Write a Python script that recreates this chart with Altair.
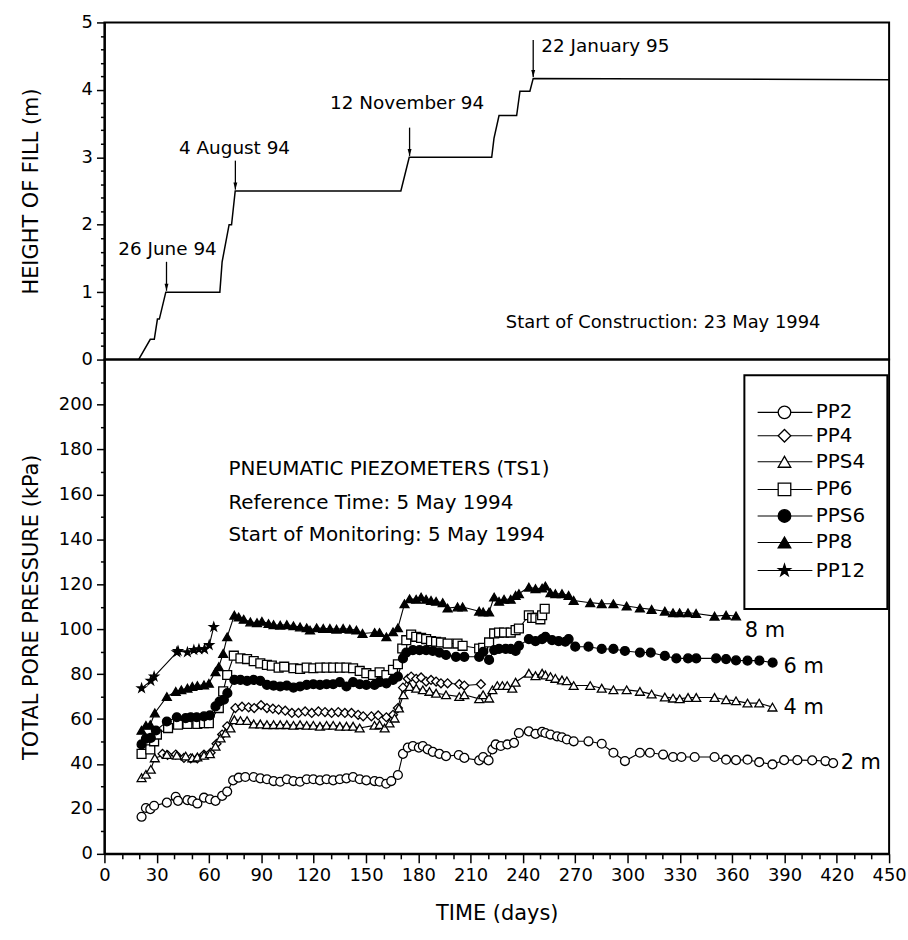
import altair as alt
import pandas as pd

# ---------------- data ----------------
# Height of fill (top panel)
fill_day = [19.6, 26.3, 28.6, 30.4, 31.5, 35.2, 66.2, 67.5, 71.5, 72.9, 75.0, 170.0, 174.8,
            222.1, 223.4, 226.3, 236.4, 238.3, 244.0, 245.9, 450.0]
fill_h = [0.0, 0.3, 0.3, 0.6, 0.6, 1.0, 1.0, 1.45, 2.0, 2.0, 2.5, 2.5, 3.0,
          3.0, 3.28, 3.62, 3.62, 3.98, 3.98, 4.17, 4.15]

ann_text = ["26 June 94", "4 August 94", "12 November 94", "22 January 95"]
ann_text_day = [36.2, 74.6, 173.6, 287.3]
ann_text_h = [1.64, 3.13, 3.81, 4.65]
arrow_day = [35.6, 75.1, 175.0, 245.9]
arrow_top = [1.45, 2.95, 3.44, 4.74]
arrow_tip = [1.02, 2.52, 3.02, 4.19]

construction_text = ["Start of Construction: 23 May 1994"]
construction_day = [320.4]
construction_h = [0.54]

# Pore pressures (bottom panel)
pp2_day = [21.3, 23.8, 26.3, 28.5, 35.8, 40.9, 42.2, 47.6, 50.4, 53.3, 57.1, 60.5, 63.7, 67.5, 70.4,
           73.8, 77.0, 80.8, 85.6, 89.4, 93.2, 97.0, 100.8, 104.6, 108.4, 112.2, 116.0, 119.8, 123.6,
           127.4, 131.2, 135.0, 138.8, 142.6, 146.4, 150.2, 154.9, 157.8, 161.6, 164.5, 168.3, 171.2,
           174.0, 176.9, 180.3, 182.6, 185.4, 188.3, 192.1, 195.9, 203.2, 206.4, 214.9, 217.2, 220.3,
           222.5, 224.4, 227.3, 231.1, 234.9, 237.7, 243.4, 247.2, 251.0, 252.9, 255.8, 259.6, 262.4,
           265.2, 269.1, 277.6, 285.2, 291.9, 298.5, 307.1, 312.8, 320.4, 326.1, 330.9, 338.5, 349.9,
           356.5, 362.2, 368.8, 375.5, 383.1, 389.8, 397.4, 405.9, 413.5, 417.9]
pp2_val = [16.5, 20.4, 19.9, 21.4, 22.8, 25.4, 23.6, 23.9, 23.6, 22.4, 25.0, 24.3, 23.6, 25.8, 27.7,
           32.7, 33.9, 34.2, 34.2, 33.6, 33.2, 32.4, 32.1, 33.2, 32.4, 32.1, 33.2, 33.2, 32.7,
           33.2, 32.7, 33.2, 33.6, 34.2, 33.2, 32.7, 32.4, 32.1, 31.2, 32.4, 35.1, 44.5,
           47.3, 48.0, 47.3, 48.0, 46.5, 45.4, 44.5, 43.5, 44.0, 42.7, 41.6, 43.1, 41.6,
           46.5, 48.7, 48.0, 48.7, 49.4, 53.8, 54.5, 53.4, 54.3, 53.8, 53.1, 52.3, 51.9,
           50.9, 50.1, 50.1, 49.0, 45.0, 41.3, 45.0, 45.0, 44.2, 43.1, 43.1, 43.1, 43.1,
           41.9, 41.7, 41.9, 40.8, 39.8, 41.7, 41.7, 41.6, 41.3, 40.4]

pp4_day = [33.3, 36.2, 40.9, 45.6, 49.5, 53.3, 57.1, 60.9, 64.3, 67.5, 70.4, 75.1, 78.9, 82.7, 85.9,
           89.8, 93.2, 96.6, 99.9, 103.7, 107.5, 111.3, 115.1, 118.9, 122.7, 126.5, 130.3, 134.1,
           137.9, 141.7, 145.5, 148.4, 153.1, 157.0, 161.7, 165.5, 168.3, 171.2, 174.0, 175.9, 178.8,
           181.6, 184.5, 187.3, 190.2, 193.0, 196.8, 203.5, 206.4, 215.9]
pp4_val = [44.5, 44.0, 44.2, 42.7, 42.5, 42.5, 44.2, 45.0, 49.0, 53.1, 56.8, 64.9, 65.5, 65.2, 64.9,
           66.2, 64.9, 64.6, 64.2, 63.7, 62.7, 62.7, 63.4, 62.7, 63.4, 63.1, 62.7, 63.1,
           62.7, 62.7, 61.9, 61.2, 61.2, 61.6, 60.8, 61.9, 64.9, 74.0, 77.9, 78.9, 77.9,
           78.5, 76.7, 77.4, 76.7, 75.9, 75.9, 75.5, 74.9, 75.5]

pps4_day = [21.3, 23.8, 26.6, 28.9, 35.8, 41.5, 46.6, 50.4, 53.3, 57.1, 60.5, 63.7, 66.6, 69.4, 72.3,
            74.5, 78.0, 81.8, 85.6, 89.4, 93.2, 97.0, 100.8, 104.6, 108.4, 112.2, 116.0, 119.8, 123.6,
            127.4, 131.2, 135.0, 138.8, 142.6, 146.4, 154.9, 157.8, 160.7, 163.5, 166.4, 168.9, 171.5,
            175.0, 178.8, 182.6, 186.4, 190.2, 195.9, 203.5, 206.4, 214.9, 217.2, 220.6, 222.5, 225.3,
            228.2, 231.0, 233.9, 235.8, 243.4, 247.2, 251.0, 252.9, 255.8, 258.6, 262.4, 265.2, 269.1,
            278.6, 285.2, 291.9, 299.5, 307.1, 313.8, 321.4, 326.1, 329.9, 334.7, 339.4, 349.9, 356.5,
            362.2, 368.8, 375.5, 383.1]
pps4_val = [33.9, 35.4, 37.6, 42.7, 44.2, 43.9, 43.5, 42.7, 43.1, 43.9, 44.5, 47.9, 51.6, 53.8, 56.0,
            59.7, 59.3, 59.3, 57.8, 57.8, 57.5, 57.5, 57.5, 57.5, 57.2, 57.5, 57.2, 57.2, 56.8,
            57.2, 57.2, 56.8, 56.8, 56.8, 56.0, 57.2, 57.5, 56.0, 58.2, 60.4, 64.9, 70.8,
            74.5, 73.7, 73.0, 72.3, 71.5, 70.8, 70.0, 70.8, 69.0, 70.8, 69.3, 73.0, 74.9,
            74.9, 74.9, 73.7, 76.4, 80.4, 79.3, 80.4, 79.6, 78.9, 78.1, 77.4, 77.0, 74.9,
            74.9, 73.7, 73.0, 73.0, 72.3, 71.1, 69.8, 69.3, 69.0, 69.6, 69.6, 69.6, 68.6,
            68.1, 67.1, 67.1, 65.3]

pp6_day = [21.3, 26.3, 28.5, 30.1, 36.5, 42.2, 47.6, 53.3, 57.1, 59.9, 65.6, 68.1, 70.4, 74.2, 78.0,
           81.8, 85.6, 89.4, 93.2, 96.0, 99.9, 103.1, 108.4, 112.2, 116.0, 119.8, 123.6, 127.4, 131.2,
           135.0, 138.8, 142.6, 146.4, 150.2, 154.0, 157.8, 161.7, 165.5, 168.3, 170.8, 173.1, 175.9,
           178.8, 181.6, 184.5, 187.3, 190.2, 193.0, 196.8, 202.5, 205.4, 214.9, 217.2, 220.6, 223.5,
           226.3, 229.2, 233.0, 235.8, 237.7, 243.4, 245.3, 247.2, 250.0, 251.0, 252.5]
pp6_val = [44.5, 46.5, 50.1, 53.1, 56.0, 57.5, 57.8, 57.8, 58.2, 58.2, 64.9, 72.3, 79.6, 88.2, 87.0,
           86.7, 85.8, 84.8, 84.1, 83.8, 82.9, 83.3, 82.6, 82.3, 82.9, 82.6, 82.9, 82.9, 82.9,
           82.9, 82.9, 82.6, 81.4, 80.4, 79.6, 80.8, 79.6, 81.9, 84.4, 91.4, 95.1, 97.6,
           96.6, 96.1, 95.6, 94.7, 94.4, 94.1, 93.6, 93.6, 92.6, 91.4, 91.7, 94.1, 98.1,
           98.5, 98.5, 98.5, 99.6, 100.3, 106.2, 105.0, 105.0, 104.4, 106.2, 109.1]

pps6_day = [21.3, 23.8, 26.6, 29.5, 35.8, 41.5, 46.6, 49.5, 52.9, 57.1, 60.5, 63.7, 66.0, 68.5, 70.5,
            74.5, 78.0, 81.8, 85.6, 89.4, 93.2, 97.0, 100.8, 104.6, 108.4, 112.2, 116.0, 119.8, 123.6,
            127.4, 131.2, 135.0, 138.8, 142.6, 146.4, 150.2, 154.9, 157.8, 161.7, 165.5, 168.3, 171.2,
            173.1, 176.9, 180.7, 184.5, 188.3, 192.1, 195.9, 201.6, 206.4, 214.9, 217.2, 220.6, 223.5,
            226.3, 230.1, 233.0, 235.8, 237.7, 243.4, 247.2, 251.0, 252.9, 256.7, 260.5, 264.3, 266.2,
            270.0, 277.6, 285.2, 291.9, 298.5, 307.1, 313.3, 321.4, 328.0, 334.7, 339.4, 350.8, 356.5,
            362.2, 368.8, 375.6, 383.2]
pps6_val = [48.7, 51.3, 51.6, 54.9, 58.9, 60.8, 60.4, 60.8, 60.8, 61.2, 61.6, 65.6, 67.8, 68.6, 71.5,
            77.4, 77.4, 77.0, 77.4, 77.0, 75.2, 74.9, 74.5, 74.9, 74.0, 74.5, 75.2, 75.5, 75.2,
            75.5, 75.5, 76.4, 74.5, 76.4, 75.5, 75.2, 75.2, 76.4, 75.9, 77.4, 78.9, 87.0,
            89.6, 90.7, 90.7, 90.7, 90.3, 89.6, 88.5, 87.7, 87.7, 87.7, 89.9, 86.3, 90.7,
            91.2, 91.2, 91.2, 90.3, 92.6, 95.6, 94.7, 95.6, 96.6, 95.1, 94.7, 94.4, 95.6,
            92.2, 92.2, 91.2, 91.2, 90.3, 89.6, 89.6, 88.1, 87.0, 87.0, 87.0, 87.0, 86.7,
            86.1, 86.0, 86.0, 85.1]

pp8_day = [21.3, 23.8, 26.3, 28.9, 35.8, 40.9, 44.1, 47.6, 50.4, 53.3, 57.1, 59.9, 63.7, 65.6, 68.1,
           70.4, 74.5, 77.0, 79.9, 83.7, 87.5, 90.3, 94.1, 97.0, 100.8, 104.6, 108.4, 112.2, 116.0,
           117.9, 121.7, 125.5, 129.3, 133.1, 136.9, 140.7, 144.5, 148.0, 155.0, 157.8, 161.7, 165.5,
           168.3, 172.1, 175.0, 178.8, 181.6, 184.5, 187.3, 190.2, 194.0, 196.8, 202.5, 205.4, 214.9,
           217.2, 220.6, 223.5, 226.3, 229.2, 233.0, 235.8, 237.7, 243.4, 247.2, 251.0, 252.9, 255.8,
           258.6, 262.4, 266.2, 269.1, 278.6, 285.2, 291.9, 299.5, 307.1, 313.8, 321.4, 326.1, 329.9,
           334.7, 339.3, 349.9, 356.5, 362.2]
pp8_val = [55.0, 57.2, 57.5, 62.7, 70.0, 72.3, 73.0, 73.7, 74.5, 74.9, 75.2, 75.9, 81.1, 83.3, 89.2,
           96.6, 106.2, 105.4, 104.4, 103.2, 102.9, 103.5, 102.5, 102.0, 101.8, 102.0, 101.5, 101.0, 100.6,
           99.6, 100.6, 100.3, 100.3, 100.0, 100.3, 100.0, 99.6, 98.1, 98.5, 98.5, 96.6, 98.8,
           100.6, 111.3, 113.5, 113.3, 114.3, 113.3, 112.8, 112.4, 111.8, 109.4, 109.9, 109.9, 108.0,
           107.7, 107.7, 114.3, 112.4, 113.3, 113.3, 115.0, 115.8, 118.7, 118.0, 118.3, 119.2, 116.2,
           115.8, 115.8, 115.0, 112.8, 111.8, 111.3, 111.3, 110.3, 109.4, 108.8, 108.0, 107.3, 107.3,
           107.3, 107.0, 105.8, 106.2, 105.9]

pp12_day = [21.3, 26.6, 28.5, 41.5, 42.2, 47.6, 51.3, 54.2, 57.4, 60.1, 62.7]
pp12_val = [73.7, 77.0, 78.9, 89.7, 90.3, 89.7, 90.7, 91.1, 91.1, 92.9, 101.0]

series_names = ["PP2", "PP4", "PPS4", "PP6", "PPS6", "PP8", "PP12"]
series_days = [pp2_day, pp4_day, pps4_day, pp6_day, pps6_day, pp8_day, pp12_day]
series_vals = [pp2_val, pp4_val, pps4_val, pp6_val, pps6_val, pp8_val, pp12_val]
STAR = ("M0,-1L0.2245,-0.309L0.951,-0.309L0.363,0.118L0.588,0.809L0,0.382"
        "L-0.588,0.809L-0.363,0.118L-0.951,-0.309L-0.2245,-0.309Z")
series_shapes = ["circle", "diamond", "triangle-up", "square", "circle", "triangle-up", STAR]
series_fills = ["white", "white", "white", "white", "black", "black", "black"]

depth_text = ["8 m", "6 m", "4 m", "2 m"]
depth_day = [367.2, 389.5, 389.5, 422.2]
depth_val = [99.2, 83.3, 64.9, 40.5]

info_text = ["PNEUMATIC PIEZOMETERS (TS1)", "Reference Time: 5 May 1994",
             "Start of Monitoring: 5 May 1994"]
info_day = [71.1, 71.1, 71.1]
info_val = [171.4, 156.3, 141.7]

legend_val = [196.5, 186.1, 174.5, 162.2, 150.4, 138.6, 126.1]
legend_line_day = [374.6, 406.0]
legend_sym_day = 390.0
legend_text_day = 408.0
legend_box_day = [367.0, 449.0]
legend_box_val = [109.0, 213.0]

# ---------------- layout constants ----------------
FONT = "DejaVu Sans"
W = 789
H_TOP = 339
H_BOT = 497

x_scale = alt.Scale(domain=[0, 450], nice=False, zero=False)
y_top_scale = alt.Scale(domain=[0, 5], nice=False, zero=False)
y_bot_scale = alt.Scale(domain=[0, 220], nice=False, zero=False)

shape_scale = alt.Scale(domain=series_names, range=series_shapes)
fill_scale = alt.Scale(domain=series_names, range=series_fills)

is_int = "abs(datum.value - round(datum.value)) < 0.001"
y_top_axis = alt.Axis(
    values=[round(0.2 * i, 1) for i in range(26)],
    labelExpr=f"{is_int} ? format(datum.value, 'd') : ''",
    tickSize={"condition": {"test": is_int, "value": 8}, "value": 4},
    title="HEIGHT OF FILL (m)", titleX=-73, titleY=H_TOP / 2, titleAngle=270,
    titleBaseline="middle", titleAlign="center",
    labelOverlap=False, labelFlush=False, labelBound=False, grid=False,
)
y_bot_axis = alt.Axis(
    values=list(range(0, 211, 10)),
    labelExpr="datum.value % 20 === 0 ? datum.label : ''",
    tickSize={"condition": {"test": "datum.value % 20 === 0", "value": 8}, "value": 4},
    title="TOTAL PORE PRESSURE (kPa)", titleX=-73, titleY=H_BOT / 2, titleAngle=270,
    titleBaseline="middle", titleAlign="center",
    labelOverlap=False, labelFlush=False, labelBound=False, grid=False,
)
x_bot_axis = alt.Axis(
    values=list(range(0, 451, 10)),
    labelExpr="datum.value % 30 === 0 ? datum.label : ''",
    tickSize={"condition": {"test": "datum.value % 30 === 0", "value": 9}, "value": 5},
    title="TIME (days)", titleY=60, titleBaseline="middle",
    labelOverlap=False, labelFlush=False, labelBound=False, grid=False,
)


def xt(field="day"):
    return alt.X(f"{field}:Q", scale=x_scale, axis=None)


def yt(field="h"):
    return alt.Y(f"{field}:Q", scale=y_top_scale, axis=y_top_axis)


def xb(field="day"):
    return alt.X(f"{field}:Q", scale=x_scale, axis=x_bot_axis)


def yb(field="val"):
    return alt.Y(f"{field}:Q", scale=y_bot_scale, axis=y_bot_axis)


# ---------------- top panel ----------------
fill_df = pd.DataFrame({"day": fill_day, "h": fill_h})
ann_df = pd.DataFrame({"day": ann_text_day, "h": ann_text_h, "label": ann_text})
arrow_df = pd.DataFrame({"day": arrow_day, "h": arrow_top, "h2": arrow_tip})
cons_df = pd.DataFrame({"day": construction_day, "h": construction_h, "label": construction_text})

fill_line = alt.Chart(fill_df).mark_line(color="black", strokeWidth=1.5).encode(x=xt(), y=yt())
arrow_shaft = alt.Chart(arrow_df).mark_rule(color="black", strokeWidth=1.3).encode(
    x=xt(), y=yt(), y2="h2:Q")
arrow_head = alt.Chart(arrow_df).mark_point(
    shape="M0,0L-0.28,-1L0.28,-1Z", filled=True, color="black", size=200, opacity=1
).encode(x=xt(), y=yt("h2"))
ann_label = alt.Chart(ann_df).mark_text(
    font=FONT, fontSize=18.5, color="black", align="center", baseline="middle"
).encode(x=xt(), y=yt(), text="label:N")
cons_label = alt.Chart(cons_df).mark_text(
    font=FONT, fontSize=18, color="black", align="center", baseline="middle"
).encode(x=xt(), y=yt(), text="label:N")

top = alt.layer(fill_line, arrow_shaft, arrow_head, ann_label, cons_label).properties(
    width=W, height=H_TOP)

# ---------------- bottom panel ----------------
rows = []
for name, ds, vs in zip(series_names, series_days, series_vals):
    for d, v in zip(ds, vs):
        rows.append({"series": name, "day": d, "val": v})
pp_df = pd.DataFrame(rows)

lines = alt.Chart(pp_df).mark_line(color="black", strokeWidth=1.1).encode(
    x=xb(), y=yb(), detail="series:N")
points = alt.Chart(pp_df).mark_point(
    filled=True, stroke="black", strokeWidth=1.3, size=80, opacity=1
).encode(
    x=xb(), y=yb(),
    shape=alt.Shape("series:N", scale=shape_scale, legend=None),
    fill=alt.Fill("series:N", scale=fill_scale, legend=None),
)

depth_df = pd.DataFrame({"day": depth_day, "val": depth_val, "label": depth_text})
depth_labels = alt.Chart(depth_df).mark_text(
    font=FONT, fontSize=21, color="black", align="left", baseline="middle"
).encode(x=xb(), y=yb(), text="label:N")

info_df = pd.DataFrame({"day": info_day, "val": info_val, "label": info_text})
info_labels = alt.Chart(info_df).mark_text(
    font=FONT, fontSize=20, color="black", align="left", baseline="middle"
).encode(x=xb(), y=yb(), text="label:N")

box_df = pd.DataFrame({"day": [legend_box_day[0]], "day2": [legend_box_day[1]],
                       "val": [legend_box_val[0]], "val2": [legend_box_val[1]]})
legend_box = alt.Chart(box_df).mark_rect(fill="white", stroke="black", strokeWidth=2).encode(
    x=xb(), x2="day2:Q", y=yb(), y2="val2:Q")

leg_df = pd.DataFrame({
    "series": series_names,
    "val": legend_val,
    "day": [legend_line_day[0]] * len(series_names),
    "day2": [legend_line_day[1]] * len(series_names),
    "sym": [legend_sym_day] * len(series_names),
    "txt": [legend_text_day] * len(series_names),
})
legend_lines = alt.Chart(leg_df).mark_rule(color="black", strokeWidth=1.1).encode(
    x=xb(), x2="day2:Q", y=yb())
legend_syms = alt.Chart(leg_df).mark_point(
    filled=True, stroke="black", strokeWidth=1.3, size=160, opacity=1
).encode(
    x=xb("sym"), y=yb(),
    shape=alt.Shape("series:N", scale=shape_scale, legend=None),
    fill=alt.Fill("series:N", scale=fill_scale, legend=None),
)
legend_text = alt.Chart(leg_df).mark_text(
    font=FONT, fontSize=20, color="black", align="left", baseline="middle"
).encode(x=xb("txt"), y=yb(), text="series:N")

bottom = alt.layer(
    lines, points, depth_labels, info_labels,
    legend_box, legend_lines, legend_syms, legend_text,
).properties(width=W, height=H_BOT)

chart = alt.vconcat(top, bottom, spacing=0, bounds="flush").properties(
    padding={"left": 19, "top": 10, "right": 0, "bottom": 0},
    background="white",
).configure_view(
    stroke="black", strokeWidth=2
).configure_axis(
    domainColor="black", domainWidth=2, tickColor="black", tickWidth=1.5,
    labelColor="black", labelFont=FONT, labelFontSize=18, labelPadding=4,
    titleColor="black", titleFont=FONT, titleFontSize=21, titleFontWeight="normal",
)

chart.save("out.html", embed_options={"renderer": "svg", "actions": False})
